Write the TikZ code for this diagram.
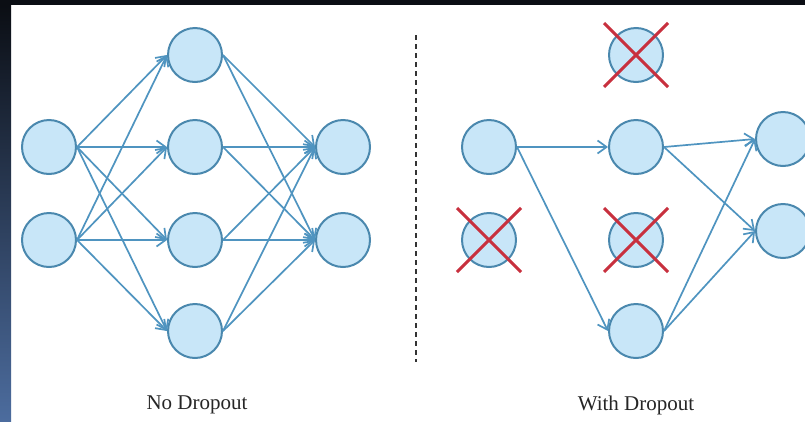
\documentclass[tikz,border=0pt]{standalone}
\usepackage{fontspec}
\setmainfont{Liberation Serif}
\usetikzlibrary{arrows.meta}
\definecolor{edgeblue}{HTML}{4F94C0}
\definecolor{nodefill}{HTML}{C8E6F8}
\definecolor{nodeline}{HTML}{4A88AE}
\definecolor{crossred}{HTML}{C8303E}
\definecolor{stripTop}{HTML}{0B0E14}
\definecolor{stripBot}{HTML}{4C6C9E}

\begin{document}
\begin{tikzpicture}[x=1pt,y=-1pt,
  neuron/.style={circle, draw=nodeline, fill=nodefill, line width=2pt,
                 minimum size=54pt, inner sep=0pt},
  link/.style={draw=edgeblue, line width=1.7pt,
               -{Straight Barb[length=9pt,width=13pt,line width=1.7pt]}},
  cross/.style={draw=crossred, line width=3pt},
  caption/.style={font=\fontsize{21}{25}\selectfont, text=black!85}]
  \useasboundingbox (0,0) rectangle (805,421);

  % frame: white canvas, black top bar, shaded left strip
  \fill[white] (0,0) rectangle (805,421);
  \fill[stripTop] (0,0) rectangle (805,5);
  \shade[top color=stripTop, bottom color=stripBot] (0,5) rectangle (11,421);

  % ---------- network without dropout ----------
  \node[neuron] (a1) at (49,147) {};
  \node[neuron] (a2) at (49,240) {};
  \node[neuron] (h1) at (195,55) {};
  \node[neuron] (h2) at (195,147) {};
  \node[neuron] (h3) at (195,240) {};
  \node[neuron] (h4) at (195,331) {};
  \node[neuron] (o1) at (343,147) {};
  \node[neuron] (o2) at (343,240) {};

  \foreach \i in {a1,a2}
    \foreach \h in {h1,h2,h3,h4}
      \draw[link] (\i.east) -- (\h.west);
  \foreach \h in {h1,h2,h3,h4}
    \foreach \o in {o1,o2}
      \draw[link] (\h.east) -- (\o.west);

  % separator
  \coordinate (sepTop) at (416,35);
  \coordinate (sepBot) at (416,362);
  \draw[black!80, line width=2pt, dash pattern=on 5pt off 4pt] (sepTop) -- (sepBot);

  % ---------- network with dropout ----------
  \node[neuron] (b1) at (489,147) {};
  \node[neuron] (b2) at (489,240) {};
  \node[neuron] (g1) at (636,55) {};
  \node[neuron] (g2) at (636,147) {};
  \node[neuron] (g3) at (636,240) {};
  \node[neuron] (g4) at (636,331) {};
  \node[neuron] (p1) at (783,139) {};
  \node[neuron] (p2) at (783,231) {};

  \draw[link] (b1.east) -- (g2.west);
  \draw[link] (b1.east) -- (g4.west);
  \foreach \g in {g2,g4}
    \foreach \p in {p1,p2}
      \draw[link] (\g.east) -- (\p.west);

  % dropped units
  \foreach \d in {b2,g1,g3} {
    \draw[cross] ([shift={(-32,-32)}]\d.center) -- ([shift={(32,32)}]\d.center);
    \draw[cross] ([shift={(-32,32)}]\d.center) -- ([shift={(32,-32)}]\d.center);
  }

  % captions
  \node[caption] (capL) at (197,405) {No Dropout};
  \node[caption] (capR) at (636,405) {With Dropout};
\end{tikzpicture}
\end{document}
